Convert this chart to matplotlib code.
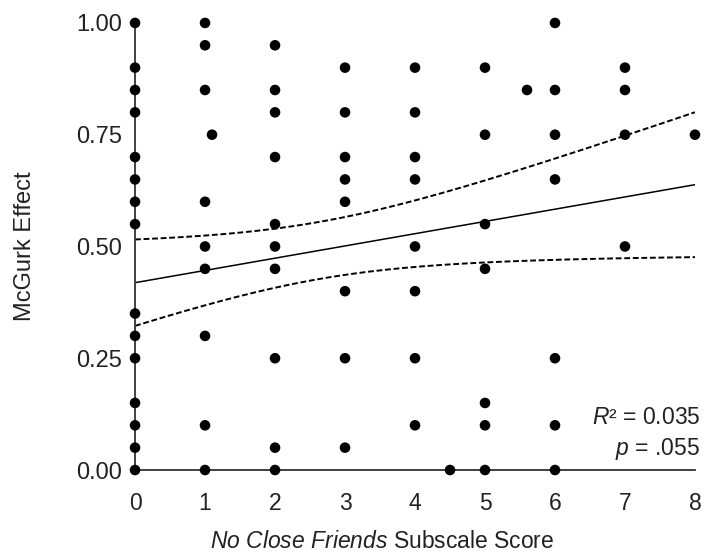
import numpy as np
import matplotlib
matplotlib.use("Agg")
import matplotlib.pyplot as plt

plt.rcParams['font.family'] = ['Liberation Sans', 'DejaVu Sans']
plt.rcParams['mathtext.fontset'] = 'custom'
plt.rcParams['mathtext.rm'] = 'Liberation Sans'
plt.rcParams['mathtext.it'] = 'Liberation Sans:italic'

# subscale score -> McGurk effect values at that score
score_0 = [1.00, 0.90, 0.85, 0.80, 0.70, 0.65, 0.60, 0.55, 0.35, 0.30, 0.25, 0.15, 0.10, 0.05, 0.00]
score_1 = [1.00, 0.95, 0.85, 0.60, 0.50, 0.45, 0.30, 0.10, 0.00]
score_1_1 = [0.75]
score_2 = [0.95, 0.85, 0.80, 0.70, 0.55, 0.50, 0.45, 0.25, 0.05, 0.00]
score_3 = [0.90, 0.80, 0.70, 0.65, 0.60, 0.40, 0.25, 0.05]
score_4 = [0.90, 0.80, 0.70, 0.65, 0.50, 0.40, 0.25, 0.10]
score_4_5 = [0.00]
score_5 = [0.90, 0.75, 0.55, 0.45, 0.15, 0.10, 0.00]
score_5_6 = [0.85]
score_6 = [1.00, 0.85, 0.75, 0.65, 0.25, 0.10, 0.00]
score_7 = [0.90, 0.85, 0.75, 0.50]
score_8 = [0.75]

groups = {0: score_0, 1: score_1, 1.1: score_1_1, 2: score_2, 3: score_3, 4: score_4,
          4.5: score_4_5, 5: score_5, 5.6: score_5_6, 6: score_6, 7: score_7, 8: score_8}

# linear fit and its 95% confidence band
intercept = 0.419
slope = 0.0274
n_obs = 107
x_mean = 2.62
x_sxx = 569.0
resid_sd = 0.333
t_crit = 1.983

r_squared = "0.035"
p_value = ".055"

x = []
y = []
for score, vals in groups.items():
    x += [score] * len(vals)
    y += vals

fig = plt.figure(figsize=(7.07, 5.54), dpi=100)
ax = fig.add_axes([0.191, 0.1516, 0.792, 0.807])

xs = np.linspace(0, 8, 200)
fit = intercept + slope * xs
half = t_crit * resid_sd * np.sqrt(1 / n_obs + (xs - x_mean) ** 2 / x_sxx)
ax.plot(xs, fit, color='black', lw=1.1, zorder=2)
ax.plot(xs, fit + half, color='black', lw=1.4, ls=(0, (3.0, 1.4)), zorder=2)
ax.plot(xs, fit - half, color='black', lw=1.4, ls=(0, (3.0, 1.4)), zorder=2)

ax.scatter(x, y, s=58, color='black', edgecolors='none', zorder=3, clip_on=False)

ax.set_xlim(0, 8)
ax.set_ylim(0, 1)
ax.set_xticks(range(0, 9))
ax.set_yticks([0, 0.25, 0.5, 0.75, 1.0])
ax.set_yticklabels(['0.00', '0.25', '0.50', '0.75', '1.00'])
ax.tick_params(length=0, colors='#222222')
ax.tick_params(axis='y', pad=9.4, labelsize=17)
ax.tick_params(axis='x', pad=15.5, labelsize=16.5)

for side in ['top', 'right']:
    ax.spines[side].set_visible(False)
for side in ['left', 'bottom']:
    ax.spines[side].set_color('#333333')
    ax.spines[side].set_linewidth(1.3)

ax.set_ylabel('McGurk Effect', fontsize=17, color='#222222')
ax.yaxis.set_label_coords(-0.1766, 0.5)
ax.set_xlabel(r'$No\ Close\ Friends$ Subscale Score', fontsize=16.5, color='#222222')
ax.xaxis.label.set_va('baseline')
ax.xaxis.set_label_coords(0.441, -0.1745)

ax.text(1.009, 0.118, r'$R$² = ' + r_squared, transform=ax.transAxes, ha='right', va='center',
        fontsize=16.5, color='#222222')
ax.text(1.009, 0.048, r'$p$ = ' + p_value, transform=ax.transAxes, ha='right', va='center',
        fontsize=16.5, color='#222222')

fig.savefig('out.png', dpi=100)
